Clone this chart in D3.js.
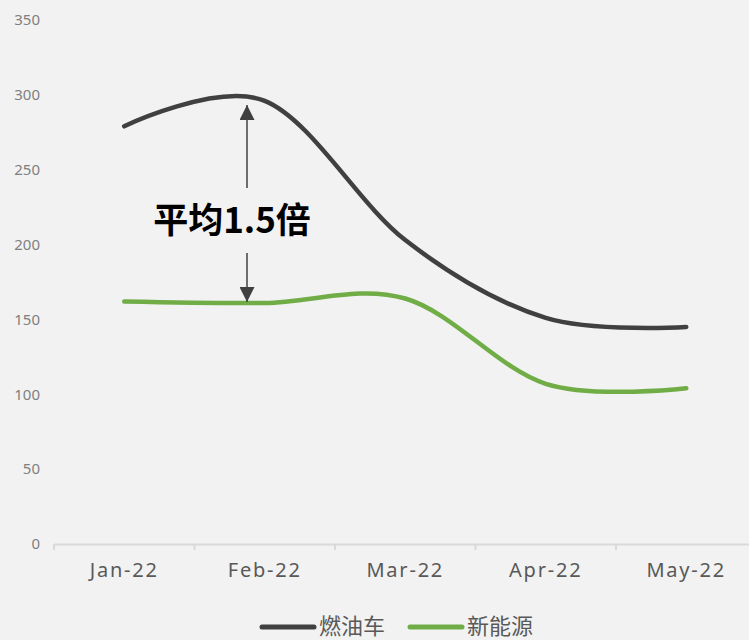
<!DOCTYPE html>
<html>
<head>
<meta charset="utf-8">
<script src="https://cdn.jsdelivr.net/npm/d3@7"></script>
<style>
  body { margin: 0; background: #f2f2f2; }
  svg { display: block; font-family: "Noto Sans CJK SC", "Noto Sans", sans-serif; }
</style>
</head>
<body>
<svg id="chart"></svg>
<script>
const months = ["Jan-22", "Feb-22", "Mar-22", "Apr-22", "May-22"];
const fuelCars = [279, 296, 203, 151, 145];
const newEnergy = [162, 161, 164, 107, 104];
const yTicks = [0, 50, 100, 150, 200, 250, 300, 350];

const width = 749;
const height = 640;

let svg = d3.select('#chart')
    .attr("width", width)
    .attr("height", height);

svg.append("rect")
    .attr("width", width)
    .attr("height", height)
    .attr("fill", "#f2f2f2");

// scales
let xScale = d3.scaleBand()
    .domain(months)
    .range([54, 756.5]);

let yScale = d3.scaleLinear()
    .domain([0, 350])
    .range([544, 20]);

// y axis (labels only)
let yAxis = d3.axisLeft(yScale).tickValues(yTicks).tickSize(0).tickPadding(0);
let gy = svg.append("g")
    .attr("class", "y-axis")
    .attr("transform", "translate(40,0)")
    .call(yAxis);
gy.select(".domain").remove();
gy.selectAll("text")
    .attr("fill", "#7f7f7f")
    .style("font-size", "15px")
    .style("font-family", "'Noto Sans', sans-serif");

// x axis
let xAxis = d3.axisBottom(xScale).tickSize(0).tickPadding(19);
let gx = svg.append("g")
    .attr("class", "x-axis")
    .attr("transform", "translate(0,544)")
    .call(xAxis);
gx.select(".domain").attr("stroke", "#d9d9d9").attr("stroke-width", 2);
gx.selectAll("text")
    .attr("fill", "#595959")
    .style("font-size", "20px")
    .style("letter-spacing", "1.8px")
    .style("font-family", "'Noto Sans', sans-serif");

// band boundary ticks
svg.append("g")
    .selectAll("line")
    .data(months)
    .join("line")
    .attr("x1", d => xScale(d))
    .attr("x2", d => xScale(d))
    .attr("y1", 544)
    .attr("y2", 550)
    .attr("stroke", "#d9d9d9")
    .attr("stroke-width", 2);

// lines
let line = d3.line()
    .x((d, i) => xScale(months[i]) + xScale.bandwidth() / 2)
    .y(d => yScale(d))
    .curve(d3.curveCardinal);

svg.append("path")
    .datum(fuelCars)
    .attr("d", line)
    .attr("fill", "none")
    .attr("stroke", "#404040")
    .attr("stroke-width", 4.5)
    .attr("stroke-linecap", "round");

svg.append("path")
    .datum(newEnergy)
    .attr("d", line)
    .attr("fill", "none")
    .attr("stroke", "#70ad47")
    .attr("stroke-width", 4.5)
    .attr("stroke-linecap", "round");

// annotation arrows
let defs = svg.append("defs");
defs.append("marker")
    .attr("id", "arrow")
    .attr("viewBox", "0 0 10 10")
    .attr("refX", 10)
    .attr("refY", 5)
    .attr("markerWidth", 17)
    .attr("markerHeight", 15)
    .attr("markerUnits", "userSpaceOnUse")
    .attr("orient", "auto")
    .append("path")
    .attr("d", "M0,0 L10,5 L0,10 Z")
    .attr("fill", "#404040");

svg.append("line")
    .attr("x1", 247).attr("y1", 188)
    .attr("x2", 247).attr("y2", 105)
    .attr("stroke", "#404040")
    .attr("stroke-width", 1.5)
    .attr("marker-end", "url(#arrow)");

svg.append("line")
    .attr("x1", 247).attr("y1", 253)
    .attr("x2", 247).attr("y2", 302)
    .attr("stroke", "#404040")
    .attr("stroke-width", 1.5)
    .attr("marker-end", "url(#arrow)");

svg.append("text")
    .attr("x", 232)
    .attr("y", 233)
    .attr("text-anchor", "middle")
    .attr("fill", "#000")
    .style("font-size", "35px")
    .style("font-weight", "bold")
    .text("平均1.5倍");

// legend
let legend = [
    {name: "燃油车", color: "#404040", x: 262},
    {name: "新能源", color: "#70ad47", x: 410}
];
let lg = svg.append("g").selectAll("g")
    .data(legend)
    .join("g")
    .attr("transform", d => "translate(" + d.x + ",627)");
lg.append("line")
    .attr("x1", 0).attr("x2", 52)
    .attr("stroke", d => d.color)
    .attr("stroke-width", 5)
    .attr("stroke-linecap", "round");
lg.append("text")
    .attr("x", 57)
    .attr("y", 7)
    .attr("fill", "#595959")
    .style("font-size", "22px")
    .text(d => d.name);
</script>
</body>
</html>
